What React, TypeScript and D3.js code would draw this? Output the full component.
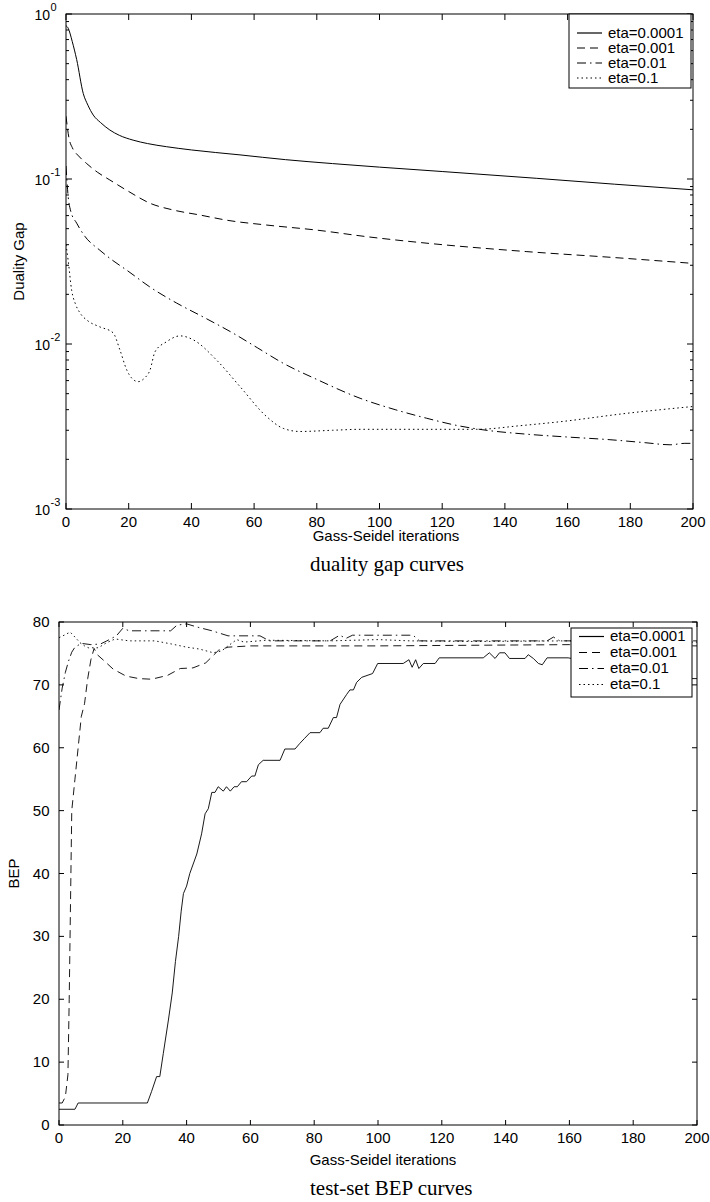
import * as d3 from "d3";

// iteration ticks shared by both panels
const iterTicks = [0, 20, 40, 60, 80, 100, 120, 140, 160, 180, 200];
const gapExponents = [0, -1, -2, -3];
const bepTicks = [0, 10, 20, 30, 40, 50, 60, 70, 80];
const etaLabels = ["eta=0.0001", "eta=0.001", "eta=0.01", "eta=0.1"];

// duality gap curves: [iteration, gap]
const gapEta0001: [number, number][] = [
  [0, 0.85], [0.7, 0.82], [2, 0.68], [3.4, 0.53], [5.5, 0.33], [7, 0.28], [8.7, 0.244],
  [11, 0.22], [14, 0.198], [17, 0.184], [21.4, 0.172], [26, 0.164], [32, 0.157], [40, 0.15],
  [55.5, 0.14], [70, 0.131], [85, 0.124], [100, 0.118], [120, 0.111], [150, 0.101],
  [175, 0.093], [200, 0.086],
];
const gapEta001: [number, number][] = [
  [0, 0.24], [1, 0.175], [2, 0.155], [4, 0.138], [6.6, 0.124], [10, 0.11], [14, 0.0986],
  [20, 0.084], [26.8, 0.0713], [34, 0.065], [42.7, 0.0605], [52, 0.056], [64, 0.0526],
  [80, 0.049], [96, 0.0447], [120, 0.04], [147, 0.0363], [175, 0.0334], [200, 0.0308],
];
const gapEta01: [number, number][] = [
  [0, 0.12], [0.7, 0.078], [1.5, 0.064], [3.4, 0.054], [6, 0.045], [10.8, 0.037], [15, 0.032],
  [19.4, 0.028], [27, 0.022], [35.3, 0.0177], [44, 0.0145], [53.4, 0.0116], [61, 0.0095],
  [69.3, 0.00764], [80, 0.0061], [93.8, 0.00469], [105, 0.004], [115, 0.00355], [125, 0.0032],
  [133, 0.00302], [147, 0.00284], [160, 0.00273], [173.5, 0.00263], [185, 0.00252],
  [192.7, 0.00245], [197.4, 0.0025], [200, 0.0025],
];
const gapEta1: [number, number][] = [
  [0, 0.04], [0.7, 0.032], [1.8, 0.0212], [3, 0.0175], [4.5, 0.0154], [7, 0.0138],
  [10.8, 0.0127], [15, 0.0117], [17.2, 0.0092], [19.4, 0.00695], [21, 0.0062], [23, 0.00591],
  [25, 0.0062], [26.8, 0.00695], [28.4, 0.00898], [32, 0.0103], [36.4, 0.0112], [40.6, 0.0106],
  [48, 0.008], [55.5, 0.00552], [64, 0.00363], [69.3, 0.00308], [74.6, 0.00295], [85, 0.003],
  [94, 0.00304], [131, 0.00304], [145, 0.0032], [157.6, 0.00338], [178.8, 0.0038], [200, 0.00418],
];

// test-set BEP curves: [iteration, BEP]
const bepEta0001: [number, number][] = [
  [0, 2.5], [5, 2.5], [6, 3.5], [27.7, 3.5], [29, 5.3], [30.6, 7.7], [31.6, 7.7], [32.7, 11.4],
  [34.3, 16.7], [35.5, 21], [36.5, 26], [37.5, 30], [38.3, 34], [39, 36.8], [40, 38], [41, 40],
  [43.2, 43.1], [44.7, 46.3], [45.8, 49.5], [46.8, 50.3], [47.9, 52.9], [48.9, 52.9],
  [49.9, 53.8], [51.5, 53.1], [52.5, 53.8], [53.7, 53.1], [54.9, 53.8], [55.9, 53.8],
  [57.2, 54.6], [58.8, 54.6], [60.4, 55.5], [61.4, 55.5], [62.5, 57.3], [64, 58], [69.3, 58],
  [70.8, 59.8], [74, 59.8], [75.5, 60.7], [77, 61.5], [78.7, 62.4], [81.8, 62.4], [82.8, 63.1],
  [84.4, 63.1], [86, 64.8], [87, 64.8], [88.1, 66.9], [90.2, 68.5], [91.2, 69.2], [92.3, 69.2],
  [93.3, 70.4], [94.9, 71.2], [98.3, 71.8], [99.9, 73.4], [107.9, 73.4], [109.7, 74],
  [110.7, 72.8], [111.8, 74], [112.8, 72.6], [114.2, 73.4], [117.9, 73.4], [119.2, 74.3],
  [133, 74.3], [134.9, 75.1], [136.7, 74.2], [138.1, 75.1], [139.8, 75.1], [141.2, 74.2],
  [146.1, 74.2], [147.1, 74.8], [148.7, 74.2], [150.3, 73.4], [151.5, 73.2], [153, 74.3],
  [159.6, 74.3], [165, 73.8], [172, 71], [200, 71],
];
const bepEta001: [number, number][] = [
  [0, 3.5], [1, 3.5], [2, 4.5], [2.8, 8], [3.2, 20], [3.6, 35], [4, 50], [5, 55], [6, 60],
  [7, 65], [8, 67], [9, 71], [10, 74], [11, 75.8], [12, 74.8], [14, 73.9], [17, 72.5],
  [21, 71.4], [25, 71], [29, 70.9], [34, 71.5], [38, 72.6], [42, 72.7], [46, 73.5], [48, 74.5],
  [50, 75.5], [53, 76], [60, 76.2], [100, 76.2], [160, 76.4], [200, 76.2],
];
const bepEta01: [number, number][] = [
  [0, 66], [1, 69.5], [2, 72], [3, 73.8], [4, 75.2], [5, 76], [7, 76.6], [10, 76.4], [13, 76.5],
  [15, 77], [18, 77.8], [20, 79], [22, 78.6], [35, 78.6], [37, 79.5], [40, 79.7], [44, 79.1],
  [48, 78.6], [53, 77.8], [63, 77.8], [66, 77], [85, 77], [88, 77.9], [90, 77.4], [92, 77.9],
  [111, 77.9], [113, 77], [153, 77], [155, 77.6], [157, 77], [200, 77],
];
const bepEta1: [number, number][] = [
  [0, 77.5], [2, 78], [3.5, 78.4], [5, 77.6], [6.6, 76.7], [8, 76.2], [9.2, 75.9], [12.3, 75.9],
  [14.9, 76.7], [17.6, 77.3], [22, 77], [30, 77], [35.3, 76.5], [40, 76], [44, 75.7],
  [48.4, 75.1], [51, 75.4], [53, 76.2], [55.7, 77.2], [58, 76.8], [65, 77.1], [85, 77],
  [100, 77.2], [110, 77], [130, 76.9], [160, 77], [200, 76.8],
];

const dashes = ["none", "8,5", "9,4,1.5,4", "1.5,3"];
const sans = "'Liberation Sans', Arial, Helvetica, sans-serif";
const serif = "'Liberation Serif', 'Times New Roman', serif";

const Legend = ({ x, y, w, h, rows }: { x: number; y: number; w: number; h: number; rows: number[] }) => (
  <g>
    <rect x={x} y={y} width={w} height={h} fill="white" stroke="black" strokeWidth={1} />
    {etaLabels.map((lab, i) => (
      <g key={lab}>
        <line x1={x + 8} x2={x + 33} y1={rows[i] - 4.5} y2={rows[i] - 4.5} stroke="black" strokeWidth={1.2} strokeDasharray={dashes[i]} />
        <text x={x + 39} y={rows[i]} fontSize={15} fontFamily={sans}>{lab}</text>
      </g>
    ))}
  </g>
);

export default function App() {
  // duality gap panel
  const gx = d3.scaleLinear().domain([0, 200]).range([66, 693]);
  const gy = d3.scaleLog().domain([1e-3, 1]).range([509, 14]);
  const gapLine = d3.line<[number, number]>().x(d => gx(d[0])).y(d => gy(d[1])).curve(d3.curveMonotoneX);
  const gapSeries = [gapEta0001, gapEta001, gapEta01, gapEta1];
  const minor: number[] = [];
  [-3, -2, -1].forEach(e => { for (let k = 2; k <= 9; k++) minor.push(k * Math.pow(10, e)); });

  // BEP panel
  const bx = d3.scaleLinear().domain([0, 200]).range([59, 697]);
  const by = d3.scaleLinear().domain([0, 80]).range([1125, 622]);
  const bepLine = d3.line<[number, number]>().x(d => bx(d[0])).y(d => by(d[1]));
  const bepSeries = [bepEta0001, bepEta001, bepEta01, bepEta1];

  const [gx0, gx1] = gx.range();
  const [gy0, gy1] = gy.range();
  const [bx0, bx1] = bx.range();
  const [by0, by1] = by.range();

  return (
    <svg width={710} height={1202} style={{ position: "absolute", left: 0, top: 0, background: "white" }}>
      <defs>
        <clipPath id="clipGap"><rect x={gx0} y={gy1} width={gx1 - gx0} height={gy0 - gy1} /></clipPath>
        <clipPath id="clipBep"><rect x={bx0} y={by1} width={bx1 - bx0} height={by0 - by1} /></clipPath>
      </defs>

      {/* ---- top: duality gap ---- */}
      <g clipPath="url(#clipGap)">
        {gapSeries.map((s, i) => (
          <path key={i} d={gapLine(s) || ""} fill="none" stroke="black" strokeWidth={1} strokeDasharray={dashes[i]} />
        ))}
      </g>
      <rect x={gx0} y={gy1} width={gx1 - gx0} height={gy0 - gy1} fill="none" stroke="black" strokeWidth={1} />
      {iterTicks.map(t => (
        <g key={t}>
          <line x1={gx(t)} x2={gx(t)} y1={gy0} y2={gy0 - 6} stroke="black" />
          <line x1={gx(t)} x2={gx(t)} y1={gy1} y2={gy1 + 6} stroke="black" />
          <text x={gx(t)} y={gy0 + 18} textAnchor="middle" fontSize={15} fontFamily={sans}>{t}</text>
        </g>
      ))}
      {gapExponents.map(e => {
        const v = Math.pow(10, e);
        return (
          <g key={e}>
            <line x1={gx0} x2={gx0 + 6} y1={gy(v)} y2={gy(v)} stroke="black" />
            <line x1={gx1} x2={gx1 - 6} y1={gy(v)} y2={gy(v)} stroke="black" />
            <text x={50} y={gy(v) + 5.5} textAnchor="end" fontSize={14} fontFamily={sans}>10</text>
            <text x={50.5} y={gy(v) - 3} fontSize={11} fontFamily={sans}>{e === 0 ? "0" : "-" + Math.abs(e)}</text>
          </g>
        );
      })}
      {minor.map(v => (
        <g key={v}>
          <line x1={gx0} x2={gx0 + 3} y1={gy(v)} y2={gy(v)} stroke="black" />
          <line x1={gx1} x2={gx1 - 3} y1={gy(v)} y2={gy(v)} stroke="black" />
        </g>
      ))}
      <text transform={`translate(24,${(gy0 + gy1) / 2}) rotate(-90)`} textAnchor="middle" fontSize={15} fontFamily={sans}>Duality Gap</text>
      <text x={386} y={541} textAnchor="middle" fontSize={15} fontFamily={sans}>Gass-Seidel iterations</text>
      <text x={310} y={571} fontSize={21} fontFamily={serif}>duality gap curves</text>
      <Legend x={569} y={14} w={122} h={74} rows={[37.5, 52.5, 67.5, 82.5]} />

      {/* ---- bottom: BEP ---- */}
      <g clipPath="url(#clipBep)">
        {bepSeries.map((s, i) => (
          <path key={i} d={bepLine(s) || ""} fill="none" stroke="black" strokeWidth={0.9} strokeDasharray={dashes[i]} />
        ))}
      </g>
      <rect x={bx0} y={by1} width={bx1 - bx0} height={by0 - by1} fill="none" stroke="black" strokeWidth={1} />
      {iterTicks.map(t => (
        <g key={t}>
          <line x1={bx(t)} x2={bx(t)} y1={by0} y2={by0 - 5} stroke="black" />
          <line x1={bx(t)} x2={bx(t)} y1={by1} y2={by1 + 5} stroke="black" />
          <text x={bx(t)} y={by0 + 17.5} textAnchor="middle" fontSize={15} fontFamily={sans}>{t}</text>
        </g>
      ))}
      {bepTicks.map(t => (
        <g key={t}>
          <line x1={bx0} x2={bx0 + 5} y1={by(t)} y2={by(t)} stroke="black" />
          <line x1={bx1} x2={bx1 - 5} y1={by(t)} y2={by(t)} stroke="black" />
          <text x={49.5} y={by(t) + 5} textAnchor="end" fontSize={15} fontFamily={sans}>{t}</text>
        </g>
      ))}
      <text transform={`translate(19,${(by0 + by1) / 2}) rotate(-90)`} textAnchor="middle" fontSize={15} fontFamily={sans}>BEP</text>
      <text x={383} y={1165} textAnchor="middle" fontSize={15} fontFamily={sans}>Gass-Seidel iterations</text>
      <text x={310} y={1195} fontSize={21} fontFamily={serif}>test-set BEP curves</text>
      <Legend x={571} y={628} w={121} h={69} rows={[641, 657, 673, 689]} />
    </svg>
  );
}
